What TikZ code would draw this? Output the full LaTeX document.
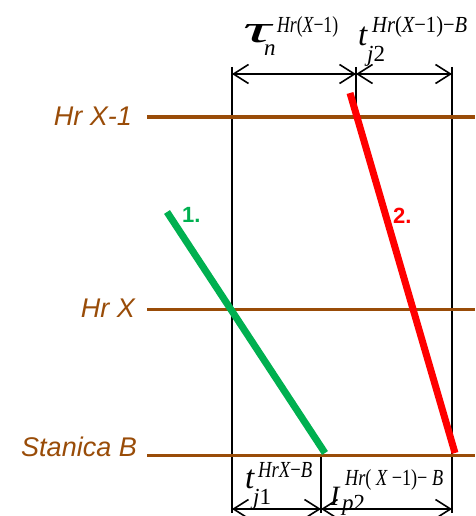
\documentclass[tikz,border=0pt]{standalone}
\usepackage{fontspec}
\usepackage{graphicx}
\setmainfont{Liberation Sans}
\newfontfamily\tnr{Liberation Serif}
\usetikzlibrary{arrows.meta}
\definecolor{trackbrown}{RGB}{153,76,8}
\definecolor{traingreen}{RGB}{0,176,80}
\definecolor{trainred}{RGB}{255,0,0}
\tikzset{
  track/.style={draw=trackbrown, line width=3pt},
  guide/.style={draw=black, line width=1.6pt},
  dim/.style={draw=black, line width=1.6pt, {Straight Barb[length=15pt,width=19pt]}-{Straight Barb[length=15pt,width=19pt]}},
  trainline/.style={line width=7pt},
  station/.style={inner sep=0pt, anchor=base east, text=trackbrown, font=\fontsize{27}{27}\selectfont\itshape},
  trainlbl/.style={inner sep=0pt, anchor=base west, font=\fontsize{22}{22}\selectfont\bfseries},
  sym/.style={inner sep=0pt, anchor=base west},
}
\newcommand{\mainsym}[2]{{\fontsize{#1}{#1}\selectfont\tnr\itshape #2}}
\newcommand{\scr}[1]{{\fontsize{23}{23}\selectfont\tnr #1}}
% #1 main, #2 sub x-offset, #3 sub raise, #4 sub, #5 sup x-offset, #6 sup raise, #7 sup
\newcommand{\dimlabel}[7]{\rlap{#1}\rlap{\hspace*{#2}\raisebox{#3}{#4}}\hspace*{#5}\raisebox{#6}{#7}}
\begin{document}
\begin{tikzpicture}[x=1pt,y=-1pt]
\useasboundingbox (0,0) rectangle (475,516);
% coordinates
\coordinate (vLt) at (232,67);   \coordinate (vLb) at (232,513);
\coordinate (vRt) at (452,67);   \coordinate (vRb) at (452,513);
\coordinate (vMt) at (356,67);   \coordinate (vMb) at (356,117);
\coordinate (vBt) at (321,455);  \coordinate (vBb) at (321,513);
\coordinate (aTL) at (232,74);   \coordinate (aTM) at (356,74);  \coordinate (aTR) at (452,74);
\coordinate (aBL) at (232,509);  \coordinate (aBM) at (321,509); \coordinate (aBR) at (452,509);
\coordinate (t1s) at (147,117);  \coordinate (t1e) at (475,117);
\coordinate (t2s) at (147,309);  \coordinate (t2e) at (475,309);
\coordinate (t3s) at (147,455);  \coordinate (t3e) at (475,455);
\coordinate (g1) at (167,212);   \coordinate (g2) at (325,453);
\coordinate (r1) at (350,93);    \coordinate (r2) at (455,453);
% guides
\draw[guide] (vLt) -- (vLb);
\draw[guide] (vRt) -- (vRb);
\draw[guide] (vMt) -- (vMb);
\draw[guide] (vBt) -- (vBb);
% tracks
\draw[track] (t1s) -- (t1e);
\draw[track] (t2s) -- (t2e);
\draw[track] (t3s) -- (t3e);
% trains
\draw[trainline, draw=traingreen] (g1) -- (g2);
\draw[trainline, draw=trainred] (r1) -- (r2);
% dimension arrows
\draw[dim] (aTL) -- (aTM);
\draw[dim] (aTM) -- (aTR);
\draw[dim] (aBL) -- (aBM);
\draw[dim] (aBM) -- (aBR);
% station labels
\node[station] (sA) at (132,125) {Hr X-1};
\node[station] (sB) at (135,317) {Hr X};
\node[station] (sC) at (137,456) {Stanica B};
% train labels
\node[trainlbl, text=traingreen] (l1) at (182,222) {1.};
\node[trainlbl, text=trainred] (l2) at (393,223) {2.};
% dimension labels
\node[sym] (tauLbl) at (243,43) {\dimlabel
  {\resizebox{28pt}{18pt}{\fontsize{38}{38}\selectfont\tnr\itshape τ}}
  {21pt}{-13pt}{\scr{\itshape n}}
  {34pt}{10pt}{\resizebox{61pt}{\height}{\scr{\itshape Hr\upshape(\itshape X\upshape −1)}}}};
\node[sym] (tj2Lbl) at (358,46) {\dimlabel
  {\mainsym{33}{t}}
  {9pt}{-16pt}{\scr{\itshape j\upshape 2}}
  {14pt}{13pt}{\resizebox{95pt}{\height}{\scr{\itshape Hr\upshape(\itshape X\upshape −1)−\itshape B}}}};
\node[sym] (tj1Lbl) at (245,488) {\dimlabel
  {\mainsym{33}{t}}
  {8pt}{-16pt}{\scr{\itshape j\upshape 1}}
  {13pt}{11pt}{\resizebox{54pt}{\height}{\scr{\itshape HrX\upshape −\itshape B}}}};
\node[sym] (Ip2Lbl) at (330,505) {\dimlabel
  {\mainsym{28}{I}}
  {12pt}{-5pt}{\scr{\itshape p\upshape 2}}
  {15pt}{20pt}{\resizebox{98pt}{\height}{\scr{\itshape Hr\upshape( \itshape X \upshape −1)− \itshape B}}}};
\end{tikzpicture}
\end{document}
